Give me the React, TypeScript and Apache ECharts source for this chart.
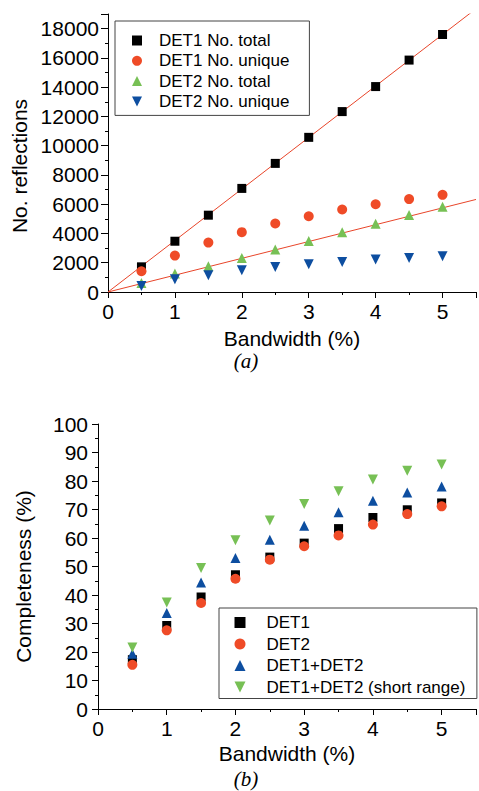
import React, { useEffect, useRef } from "react";
import * as echarts from "echarts";

// ---------- data (a) ----------
const bandwidth = [0.5, 1, 1.5, 2, 2.5, 3, 3.5, 4, 4.5, 5];
const det1Total = [1720, 3470, 5250, 7080, 8790, 10570, 12330, 14040, 15850, 17600];
const det1Unique = [1420, 2490, 3380, 4090, 4680, 5180, 5640, 6000, 6350, 6640];
const det2Total = [620, 1260, 1760, 2330, 2900, 3490, 4090, 4660, 5270, 5820];
const det2Unique = [410, 870, 1140, 1490, 1710, 1900, 2050, 2220, 2330, 2450];
const fitSlopeTotal = 3520; // linear fit through origin, DET1 No. total
const fitSlopeDet2Total = 1150; // linear fit through origin, DET2 No. total
const fitRangeX = [0, 5.5];

// ---------- data (b) ----------
const compDet1 = [17.3, 29.3, 39.3, 47.1, 53.3, 58.2, 63.3, 67.2, 69.9, 72.3];
const compDet2 = [15.5, 27.6, 37.2, 45.7, 52.4, 57.1, 60.9, 64.7, 68.4, 71.1];
const compBoth = [19.4, 33.7, 44.4, 53.0, 59.4, 64.3, 69.0, 73.1, 76.0, 78.1];
const compShort = [21.6, 37.4, 49.5, 59.2, 66.1, 71.9, 76.4, 80.5, 83.6, 85.8];

const topNames = ["DET1 No. total", "DET1 No. unique", "DET2 No. total", "DET2 No. unique"];
const bottomNames = ["DET1", "DET2", "DET1+DET2", "DET1+DET2 (short range)"];

const FONT = "'Liberation Sans', Arial, sans-serif";
const SERIF = "'Liberation Serif', 'Times New Roman', serif";
const BLACK = "#000000";
const RED = "#ef4b27";
const GREEN = "#77c055";
const BLUE = "#0d4ea0";
const FIT = "#e8452a";
const SQUARE = "path://M0,0 L10,0 L10,10 L0,10 Z";
const UP_TRI = "path://M5,0 L10,10 L0,10 Z";
const DOWN_TRI = "path://M0,0 L10,0 L5,10 Z";

const pairs = (xs: number[], ys: number[]) => xs.map((x, i) => [x, ys[i]]);
const fitLine = (slope: number) => fitRangeX.map((x) => [x, x * slope]);

function majorX(gridIndex: number, nameGap: number) {
  return {
    type: "value",
    gridIndex,
    position: "bottom",
    min: 0,
    max: 5.5,
    interval: 1,
    axisLine: { show: true, onZero: false, lineStyle: { color: BLACK, width: 1 } },
    axisTick: { show: true, length: 6, lineStyle: { color: BLACK } },
    axisLabel: {
      color: BLACK,
      fontSize: 21,
      fontFamily: FONT,
      margin: 9,
      formatter: (v: number) => (Number.isInteger(v) ? String(v) : ""),
    },
    splitLine: { show: false },
    name: "Bandwidth (%)",
    nameLocation: "middle",
    nameGap,
    nameTextStyle: { color: BLACK, fontSize: 21, fontFamily: FONT },
  };
}

function minorX(gridIndex: number) {
  return {
    type: "value",
    gridIndex,
    position: "bottom",
    min: 0,
    max: 5.5,
    interval: 0.5,
    axisLine: { show: false },
    axisTick: { show: true, length: 3, lineStyle: { color: BLACK } },
    axisLabel: { show: false },
    splitLine: { show: false },
  };
}

function minorY(gridIndex: number, max: number, interval: number) {
  return {
    type: "value",
    gridIndex,
    position: "left",
    min: 0,
    max,
    interval,
    axisLine: { show: false },
    axisTick: { show: true, length: 3, lineStyle: { color: BLACK } },
    axisLabel: { show: false },
    splitLine: { show: false },
  };
}

function scatter(name: string, x: number, y: number, data: number[][], symbol: string, color: string, size: number) {
  return {
    type: "scatter",
    name,
    xAxisIndex: x,
    yAxisIndex: y,
    data,
    symbol,
    symbolSize: size,
    symbolKeepAspect: true,
    itemStyle: { color, opacity: 1 },
    z: 3,
  };
}

export default function App() {
  const ref = useRef<HTMLDivElement>(null);

  useEffect(() => {
    if (!ref.current) return;
    const chart = echarts.init(ref.current, undefined, { renderer: "svg" });
    chart.setOption({
      animation: false,
      backgroundColor: "#ffffff",
      textStyle: { fontFamily: FONT },
      grid: [
        { left: 108, top: 14, height: 278, right: -2 },
        { left: 98, top: 424, height: 285, right: -3 },
      ],
      xAxis: [majorX(0, 36), minorX(0), majorX(1, 34), minorX(1)],
      yAxis: [
        {
          type: "value",
          gridIndex: 0,
          position: "left",
          min: 0,
          max: 19000,
          interval: 2000,
          axisLine: { show: true, onZero: false, lineStyle: { color: BLACK, width: 1 } },
          axisTick: { show: true, length: 7, lineStyle: { color: BLACK } },
          axisLabel: {
            color: BLACK,
            fontSize: 21,
            fontFamily: FONT,
            margin: 9,
            formatter: (v: number) => (v <= 18000 ? String(v) : ""),
          },
          splitLine: { show: false },
          name: "No. reflections",
          nameLocation: "middle",
          nameGap: 70,
          nameTextStyle: { color: BLACK, fontSize: 21, fontFamily: FONT, padding: [0, 26, 0, 0] },
        },
        minorY(0, 19000, 1000),
        {
          type: "value",
          gridIndex: 1,
          position: "left",
          min: 0,
          max: 100,
          interval: 10,
          axisLine: { show: true, onZero: false, lineStyle: { color: BLACK, width: 1 } },
          axisTick: { show: true, length: 6, lineStyle: { color: BLACK } },
          axisLabel: { color: BLACK, fontSize: 21, fontFamily: FONT, margin: 10 },
          splitLine: { show: false },
          name: "Completeness (%)",
          nameLocation: "middle",
          nameGap: 64,
          nameTextStyle: { color: BLACK, fontSize: 21, fontFamily: FONT, padding: [0, 20, 0, 0] },
        },
        minorY(1, 100, 5),
      ],
      legend: [
        {
          data: topNames,
          orient: "vertical",
          left: 115,
          top: 21,
          padding: [11, 20, 5.5, 17],
          itemGap: 3.3,
          itemWidth: 34,
          itemHeight: 10,
          symbolKeepAspect: true,
          borderColor: "#444",
          borderWidth: 1,
          textStyle: { color: BLACK, fontSize: 17, fontFamily: FONT },
        },
        {
          data: bottomNames,
          orient: "vertical",
          left: 219,
          top: 608,
          padding: [6, 11.5, 3, 15.5],
          itemGap: 4.5,
          itemWidth: 43,
          itemHeight: 11,
          symbolKeepAspect: true,
          borderColor: "#444",
          borderWidth: 1,
          textStyle: { color: BLACK, fontSize: 17, fontFamily: FONT },
        },
      ],
      series: [
        {
          type: "line",
          name: "fit total",
          xAxisIndex: 0,
          yAxisIndex: 0,
          data: fitLine(fitSlopeTotal),
          showSymbol: false,
          symbol: "none",
          clip: true,
          silent: true,
          lineStyle: { color: FIT, width: 1 },
          z: 2,
        },
        {
          type: "line",
          name: "fit det2",
          xAxisIndex: 0,
          yAxisIndex: 0,
          data: fitLine(fitSlopeDet2Total),
          showSymbol: false,
          symbol: "none",
          clip: true,
          silent: true,
          lineStyle: { color: FIT, width: 1 },
          z: 2,
        },
        scatter(topNames[0], 0, 0, pairs(bandwidth, det1Total), SQUARE, BLACK, 9),
        scatter(topNames[1], 0, 0, pairs(bandwidth, det1Unique), "circle", RED, 10),
        scatter(topNames[2], 0, 0, pairs(bandwidth, det2Total), UP_TRI, GREEN, 10),
        scatter(topNames[3], 0, 0, pairs(bandwidth, det2Unique), DOWN_TRI, BLUE, 10),
        scatter(bottomNames[0], 2, 2, pairs(bandwidth, compDet1), SQUARE, BLACK, 9),
        scatter(bottomNames[1], 2, 2, pairs(bandwidth, compDet2), "circle", RED, 10),
        scatter(bottomNames[2], 2, 2, pairs(bandwidth, compBoth), UP_TRI, BLUE, 10),
        scatter(bottomNames[3], 2, 2, pairs(bandwidth, compShort), DOWN_TRI, GREEN, 10),
      ],
      graphic: [
        {
          type: "text",
          x: 246,
          y: 361,
          style: {
            text: "(a)",
            font: `italic 21px ${SERIF}`,
            fill: BLACK,
            textAlign: "center",
            textVerticalAlign: "middle",
          },
        },
        {
          type: "text",
          x: 246,
          y: 779,
          style: {
            text: "(b)",
            font: `italic 21px ${SERIF}`,
            fill: BLACK,
            textAlign: "center",
            textVerticalAlign: "middle",
          },
        },
      ],
    });
    return () => chart.dispose();
  }, []);

  return (
    <div
      ref={ref}
      style={{ position: "fixed", left: 0, top: 0, width: 479, height: 791, background: "#fff" }}
    />
  );
}
